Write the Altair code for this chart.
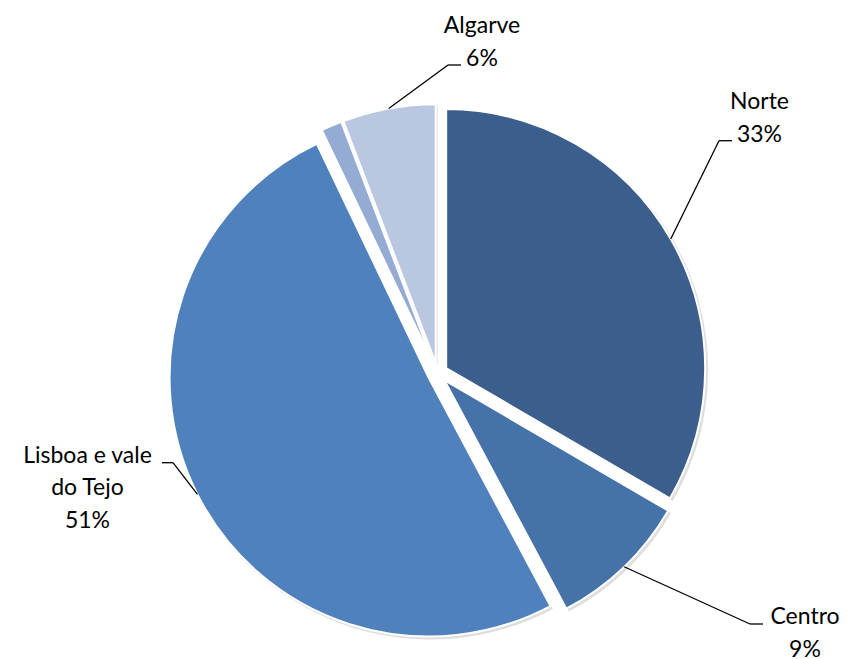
import altair as alt
import pandas as pd

# ---- data ----
regions = ["Norte", "Centro", "Lisboa e vale do Tejo", "Alentejo", "Algarve"]
values = [33.4, 8.8, 50.7, 1.3, 5.8]
label_text = ["Norte", "Centro", "Lisboa e vale\ndo Tejo", "", "Algarve"]
colors = ["#3B5E8C", "#4572A8", "#4F81BD", "#94ABD4", "#B9C7E1"]

# ---- layout (pixels) ----
CX, CY = 429.5, 365.0      # pie centre
RADIUS = 259
EXPLODE = 10
elbow_dx = [281.5, 312.5, -264.5, 0, 10.5]
elbow_dy = [-232.3, 251, 89.7, 0, -308]
seg_len = [13, 13, -11, 0, 13]
text_dx = [322, 367.5, -350, 0, 44.5]
text_dy = [-264, 251, 89.7, 0, -340]

df = pd.DataFrame({
    "region": regions,
    "value": values,
    "label": label_text,
    "order": list(range(len(regions))),
    "edx": elbow_dx, "edy": elbow_dy, "seg": seg_len,
    "tdx": text_dx, "tdy": text_dy,
})

base = (
    alt.Chart(df)
    .transform_joinaggregate(total="sum(value)")
    .transform_window(cum="sum(value)", sort=[alt.SortField("order")], frame=[None, 0])
    .transform_calculate(
        t0="(datum.cum - datum.value) / datum.total * 2 * PI",
        t1="datum.cum / datum.total * 2 * PI",
        mid="(datum.t0 + datum.t1) / 2",
        cx=f"{CX} + {EXPLODE} * sin(datum.mid)",
        cy=f"{CY} - {EXPLODE} * cos(datum.mid)",
        ax=f"datum.cx + {RADIUS} * sin(datum.mid)",
        ay=f"datum.cy - {RADIUS} * cos(datum.mid)",
        ex=f"{CX} + datum.edx",
        ey=f"{CY} + datum.edy",
        sx="datum.ex + datum.seg",
        tx=f"{CX} + datum.tdx",
        ty=f"{CY} + datum.tdy",
        pct="format(datum.value / datum.total * 100, '.0f') + '%'",
        txt="datum.label + '\\n' + datum.pct",
    )
)

color_scale = alt.Scale(domain=regions, range=colors)

shadow = base.mark_arc(radius=RADIUS + 1, color="#000000", opacity=0.13, xOffset=2, yOffset=2).encode(
    theta=alt.Theta("t0:Q", scale=None, stack=None),
    theta2="t1:Q",
    x=alt.X("cx:Q", scale=None, axis=None),
    y=alt.Y("cy:Q", scale=None, axis=None),
)

arcs = base.mark_arc(radius=RADIUS, stroke="white", strokeWidth=2).encode(
    theta=alt.Theta("t0:Q", scale=None, stack=None),
    theta2="t1:Q",
    x=alt.X("cx:Q", scale=None, axis=None),
    y=alt.Y("cy:Q", scale=None, axis=None),
    color=alt.Color("region:N", scale=color_scale, legend=None),
)

labeled = base.transform_filter("datum.label != ''")

leader = labeled.mark_rule(color="black", strokeWidth=1.3).encode(
    x=alt.X("ax:Q", scale=None, axis=None),
    y=alt.Y("ay:Q", scale=None, axis=None),
    x2="ex:Q",
    y2="ey:Q",
)

leader_h = labeled.mark_rule(color="black", strokeWidth=1.3).encode(
    x=alt.X("ex:Q", scale=None, axis=None),
    x2="sx:Q",
    y=alt.Y("ey:Q", scale=None, axis=None),
)

texts = labeled.mark_text(
    align="center", baseline="alphabetic", lineBreak="\n", lineHeight=32.5,
    font="Lato", fontSize=23, color="black",
).encode(
    x=alt.X("tx:Q", scale=None, axis=None),
    y=alt.Y("ty:Q", scale=None, axis=None),
    text="txt:N",
)

chart = (
    alt.layer(shadow, arcs, leader, leader_h, texts)
    .properties(width=832, height=651, autosize=alt.AutoSizeParams(type="none"), padding=0)
    .configure_view(stroke=None)
)

chart.save("out.html", embed_options={"renderer": "svg", "actions": False})
